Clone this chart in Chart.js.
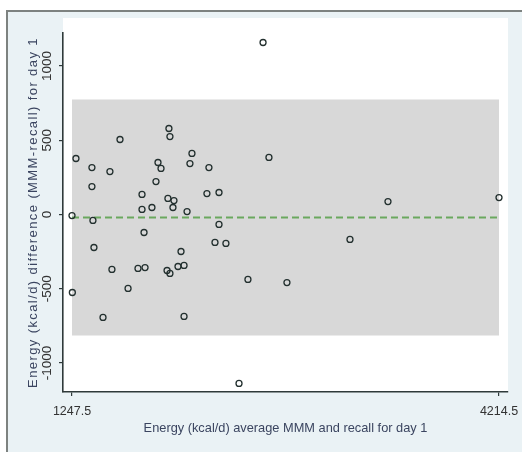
<!DOCTYPE html>
<html>
<head>
<meta charset="utf-8">
<script src="https://cdn.jsdelivr.net/npm/chart.js@4/dist/chart.umd.min.js"></script>
<style>
  html, body { margin: 0; padding: 0; background: #ffffff; }
  #wrap { width: 522px; height: 452px; position: relative; }
</style>
</head>
<body>
<div id="wrap"><canvas id="c" width="522" height="452"></canvas></div>
<script>
// ---- data ----
const avgEnergy = [1247.5, 1250, 1275, 1386, 1386, 1393, 1400, 1463, 1511, 1525,
  1581, 1637, 1706, 1755, 1734, 1734, 1748, 1803, 1831, 1845,
  1866, 1908, 1928, 1914, 1956, 1949, 1921, 1928, 1984, 2026,
  2005, 2026, 2047, 2067, 2081, 2185, 2199, 2269, 2269, 2241,
  2317, 2408, 2470, 2575, 2616, 2741, 3179, 3443, 4214.5];
const diffEnergy = [-7, -525, 377, 316, 188, -40, -222, -693, 289, -370,
  505, -498, -363, -357, 135, 34, -121, 47, 222, 350,
  310, -377, -397, 108, 94, 47, 579, 525, -350, -343,
  -249, -686, 20, 343, 411, 141, 316, 148, -67, -188,
  -195, -1137, -437, 1158, 384, -458, -168, 87, 114];
const meanDiff = -20;
const upperLimit = 774;
const lowerLimit = -814;
const xTickValues = [1247.5, 4214.5];
const xTickLabels = ['1247.5', '4214.5'];
const yTickValues = [-1000, -500, 0, 500, 1000];
const yTickLabels = ['-1000', '-500', '0', '500', '1000'];
const xTitle = 'Energy (kcal/d) average MMM and recall for day 1';
const yTitle = 'Energy (kcal/d) difference (MMM-recall) for day 1';

const xLo = xTickValues[0], xHi = xTickValues[xTickValues.length - 1];
const points = avgEnergy.map((v, i) => ({ x: v, y: diffEnergy[i] }));
const FONT = "'Liberation Sans', Arial, sans-serif";

const bgPlugin = {
  id: 'stataBg',
  beforeDraw(chart) {
    const ctx = chart.ctx;
    const a = chart.chartArea;
    ctx.save();
    ctx.fillStyle = '#ffffff';
    ctx.fillRect(0, 0, chart.width, chart.height);
    ctx.fillStyle = '#eaf2f5';
    ctx.fillRect(8, 12, chart.width - 8, chart.height - 12);
    ctx.fillStyle = '#ffffff';
    ctx.fillRect(a.left, a.top - 15, a.right - a.left, a.bottom - a.top + 15);
    ctx.strokeStyle = '#7d8280';
    ctx.lineWidth = 2;
    ctx.beginPath();
    ctx.moveTo(7, chart.height);
    ctx.lineTo(7, 11);
    ctx.lineTo(chart.width, 11);
    ctx.stroke();
    ctx.restore();
    // the reference is stretched vertically: widen the y-axis title spacing
    const ys = chart.scales.y;
    if (ys && !ys._spacedTitle) {
      const orig = ys.drawTitle;
      ys.drawTitle = function () {
        this.ctx.save();
        this.ctx.letterSpacing = '1.4px';
        orig.call(this);
        this.ctx.restore();
      };
      ys._spacedTitle = true;
    }
  }
};

new Chart(document.getElementById('c'), {
  type: 'scatter',
  data: {
    datasets: [
      {
        label: 'Differences',
        data: points,
        pointStyle: 'circle',
        pointRadius: 3,
        pointHoverRadius: 3,
        pointBorderWidth: 1.3,
        pointBorderColor: '#23302f',
        pointBackgroundColor: 'rgba(0,0,0,0)'
      },
      {
        label: 'Mean difference',
        type: 'line',
        data: [{ x: xLo, y: meanDiff }, { x: xHi, y: meanDiff }],
        borderColor: '#6aa85e',
        borderWidth: 2.2,
        borderDash: [7, 4],
        pointRadius: 0,
        fill: false
      },
      {
        label: 'Limits of agreement',
        type: 'line',
        data: [{ x: xLo, y: upperLimit }, { x: xHi, y: upperLimit }],
        borderWidth: 0,
        borderColor: 'rgba(0,0,0,0)',
        backgroundColor: '#d8d8d8',
        pointRadius: 0,
        fill: { value: lowerLimit }
      }
    ]
  },
  options: {
    responsive: false,
    animation: false,
    events: [],
    layout: { padding: { left: 0, right: 14, top: 33, bottom: 0 } },
    plugins: { legend: { display: false }, tooltip: { enabled: false } },
    scales: {
      x: {
        type: 'linear',
        min: 1185,
        max: 4277,
        afterFit(s) { s.height = 60; s.paddingLeft = 0; s.paddingRight = 0; },
        afterBuildTicks(s) { s.ticks = xTickValues.map(v => ({ value: v })); },
        border: { display: true, color: '#2f3a3a', width: 1.6 },
        grid: { display: true, drawOnChartArea: false, drawTicks: true, tickLength: 4, color: '#2f3a3a', lineWidth: 1.2 },
        ticks: {
          autoSkip: false,
          maxRotation: 0,
          padding: 8,
          color: '#333333',
          font: { family: FONT, size: 12.5 },
          callback(v) { const i = xTickValues.indexOf(v); return i >= 0 ? xTickLabels[i] : ''; }
        },
        title: {
          display: true,
          text: xTitle,
          color: '#3b4560',
          font: { family: FONT, size: 12.8 },
          padding: { top: 0, bottom: 16 }
        }
      },
      y: {
        type: 'linear',
        min: -1195,
        max: 1222,
        afterFit(s) { s.width = 63; s.paddingTop = 0; s.paddingBottom = 0; },
        afterBuildTicks(s) { s.ticks = yTickValues.map(v => ({ value: v })); },
        border: { display: true, color: '#2f3a3a', width: 1.6 },
        grid: { display: true, drawOnChartArea: false, drawTicks: true, tickLength: 4, color: '#2f3a3a', lineWidth: 1.2 },
        ticks: {
          autoSkip: false,
          minRotation: 90,
          maxRotation: 90,
          crossAlign: 'center',
          padding: -5.5,
          color: '#333333',
          font: { family: FONT, size: 13.5 },
          callback(v) { const i = yTickValues.indexOf(v); return i >= 0 ? yTickLabels[i] : ''; }
        },
        title: {
          display: true,
          text: yTitle,
          color: '#3b4560',
          font: { family: FONT, size: 13 },
          padding: { top: 26, bottom: 0 }
        }
      }
    }
  },
  plugins: [bgPlugin]
});
</script>
</body>
</html>
